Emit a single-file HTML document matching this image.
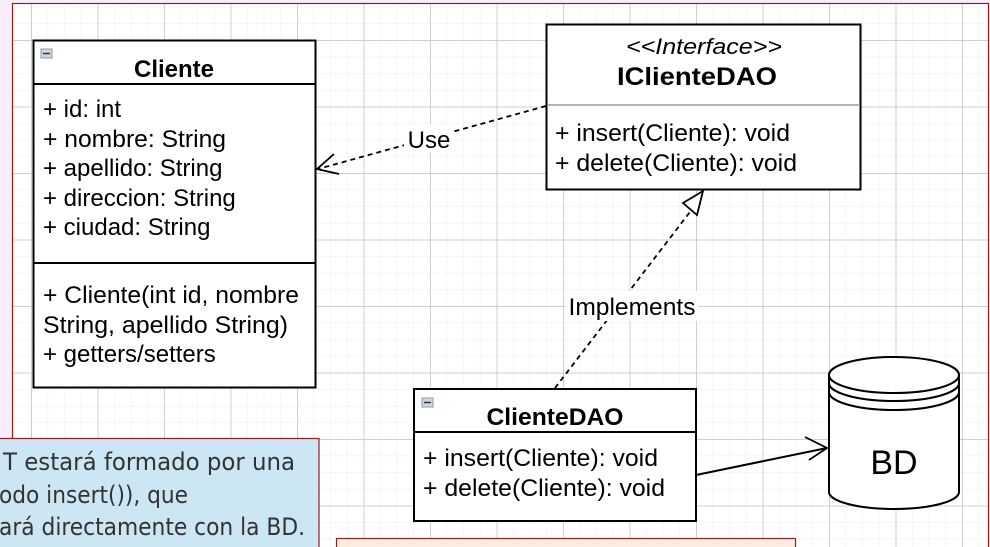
<!DOCTYPE html>
<html><head><meta charset="utf-8"><style>
html,body{margin:0;padding:0;background:#fbeefb;}
svg{display:block;font-family:"Liberation Sans",Arial,sans-serif;}
</style></head><body>
<svg width="990" height="547" viewBox="0 0 990 547" xmlns="http://www.w3.org/2000/svg">
<defs>
<pattern id="minor" x="31" y="40" width="16.625" height="16.625" patternUnits="userSpaceOnUse">
<path d="M0 0H16.625M0 0V16.625" stroke="#ececec" stroke-width="1" fill="none"/>
</pattern>
<pattern id="major" x="31" y="40" width="66.5" height="66.5" patternUnits="userSpaceOnUse">
<path d="M0 0.5H66.5M0.5 0V66.5" stroke="#cfcfcf" stroke-width="1" fill="none"/>
</pattern>
</defs>
<rect x="0" y="0" width="990" height="547" fill="#fbeefb"/>
<rect x="12.5" y="3.5" width="976" height="560" fill="#fff" stroke="#a01818" stroke-width="1.2"/>
<rect x="13" y="4" width="975" height="543" fill="url(#minor)"/>
<rect x="13" y="4" width="975" height="543" fill="url(#major)"/>

<!-- Cliente -->
<rect x="33.5" y="40.5" width="282" height="347" fill="#fff" stroke="#000" stroke-width="2"/>
<line x1="33" y1="84" x2="316" y2="84" stroke="#000" stroke-width="2"/>
<line x1="33" y1="263" x2="316" y2="263" stroke="#000" stroke-width="2"/>
<rect x="41" y="49" width="11" height="9" fill="#cfd6dd" stroke="#8899aa" stroke-width="1"/>
<line x1="43" y1="53.5" x2="50" y2="53.5" stroke="#333" stroke-width="1.5"/>
<text x="174" y="77" font-size="24" font-weight="bold" text-anchor="middle">Cliente</text>
<g font-size="24">
<text x="43" y="117">+ id: int</text>
<text x="43" y="147" textLength="183" lengthAdjust="spacingAndGlyphs">+ nombre: String</text>
<text x="43" y="176">+ apellido: String</text>
<text x="43" y="206">+ direccion: String</text>
<text x="43" y="235">+ ciudad: String</text>
<text x="43" y="303" textLength="256" lengthAdjust="spacingAndGlyphs">+ Cliente(int id, nombre</text>
<text x="43" y="333" textLength="245" lengthAdjust="spacingAndGlyphs">String, apellido String)</text>
<text x="43" y="362">+ getters/setters</text>
</g>

<!-- Interface -->
<rect x="546.5" y="24.5" width="314" height="165" fill="#fff" stroke="#000" stroke-width="2"/>
<line x1="547" y1="105" x2="860" y2="105" stroke="#999" stroke-width="1.5"/>
<text x="704" y="54" font-size="22" font-style="italic" text-anchor="middle" textLength="156" lengthAdjust="spacingAndGlyphs">&lt;&lt;Interface&gt;&gt;</text>
<text x="697" y="85" font-size="25" font-weight="bold" text-anchor="middle" textLength="160" lengthAdjust="spacingAndGlyphs">IClienteDAO</text>
<g font-size="24">
<text x="555" y="141" textLength="235" lengthAdjust="spacingAndGlyphs">+ insert(Cliente): void</text>
<text x="555" y="171" textLength="242" lengthAdjust="spacingAndGlyphs">+ delete(Cliente): void</text>
</g>

<!-- ClienteDAO -->
<rect x="414" y="389" width="282" height="132" fill="#fff" stroke="#000" stroke-width="2"/>
<line x1="414" y1="432" x2="696" y2="432" stroke="#000" stroke-width="2"/>
<rect x="422" y="398" width="11" height="9" fill="#cfd6dd" stroke="#8899aa" stroke-width="1"/>
<line x1="424" y1="402.5" x2="431" y2="402.5" stroke="#333" stroke-width="1.5"/>
<text x="555" y="425" font-size="24" font-weight="bold" text-anchor="middle" textLength="137" lengthAdjust="spacingAndGlyphs">ClienteDAO</text>
<g font-size="24">
<text x="423" y="466" textLength="235" lengthAdjust="spacingAndGlyphs">+ insert(Cliente): void</text>
<text x="423" y="496" textLength="242" lengthAdjust="spacingAndGlyphs">+ delete(Cliente): void</text>
</g>

<!-- Use -->
<line x1="546" y1="106" x2="318" y2="169" stroke="#000" stroke-width="1.8" stroke-dasharray="5,4"/>
<rect x="404" y="124" width="50" height="28" fill="#fff"/>
<text x="429" y="148" font-size="24" text-anchor="middle">Use</text>
<path d="M334 154 L317 169 L339 174" fill="none" stroke="#000" stroke-width="1.8"/>

<!-- Implements -->
<line x1="555" y1="388" x2="693" y2="208" stroke="#000" stroke-width="1.8" stroke-dasharray="5,4"/>
<rect x="566" y="291" width="132" height="30" fill="#fff"/>
<text x="632" y="315" font-size="24" text-anchor="middle" textLength="127" lengthAdjust="spacingAndGlyphs">Implements</text>
<path d="M703 191 L697 215 L683 203 Z" fill="#fff" stroke="#000" stroke-width="1.8"/>

<!-- association -->
<line x1="696" y1="475" x2="827" y2="448" stroke="#000" stroke-width="2"/>
<path d="M805 437 L827 448 L809 460" fill="none" stroke="#000" stroke-width="1.8"/>

<!-- BD cylinder -->
<path d="M829 375 V492 A65 17 0 0 0 959 492 V375" fill="#fff" stroke="#000" stroke-width="2"/>
<ellipse cx="894" cy="375" rx="65" ry="18" fill="#fff" stroke="#000" stroke-width="2"/>
<path d="M829 383 A65 18 0 0 0 959 383" fill="none" stroke="#000" stroke-width="2"/>
<path d="M829 392 A65 18 0 0 0 959 392" fill="none" stroke="#000" stroke-width="2"/>
<text x="894" y="474" font-size="34" text-anchor="middle">BD</text>

<!-- blue note -->
<rect x="-2" y="438.5" width="321" height="112" fill="#cde6f3" stroke="#8a2020" stroke-width="1.2"/>
<g font-family="'DejaVu Sans Condensed','DejaVu Sans',sans-serif" font-size="24" fill="#333">
<text x="3" y="470" textLength="292" lengthAdjust="spacingAndGlyphs">T estará formado por una</text>
<text x="-1" y="503" textLength="189" lengthAdjust="spacingAndGlyphs">odo insert()), que</text>
<text x="-1" y="535" textLength="306" lengthAdjust="spacingAndGlyphs">ará directamente con la BD.</text>
</g>

<!-- bottom note -->
<rect x="336.5" y="538.5" width="459" height="20" fill="#fdede0" stroke="#8a2020" stroke-width="1.2"/>
</svg>
</body></html>
